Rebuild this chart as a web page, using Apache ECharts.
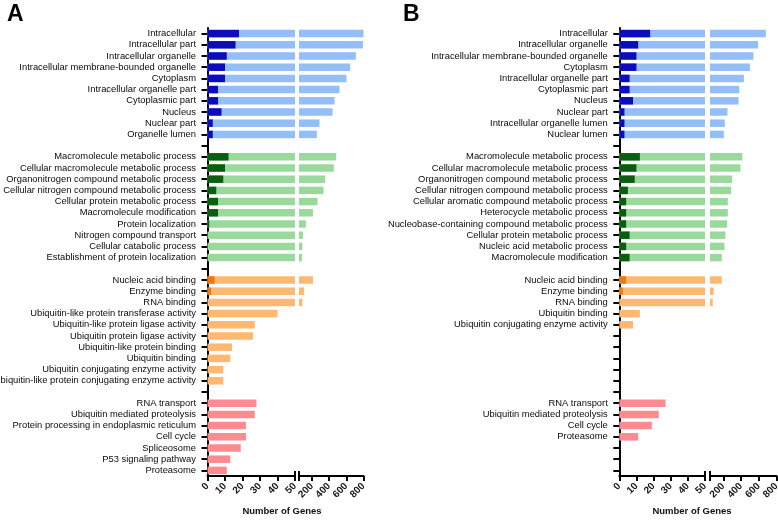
<!DOCTYPE html>
<html>
<head>
<meta charset="utf-8">
<script src="https://cdn.jsdelivr.net/npm/echarts@6/dist/echarts.min.js"></script>
<style>
html,body{margin:0;padding:0;background:#fff;}
#chart{width:778px;height:520px;}
</style>
</head>
<body>
<div id="chart"></div>
<script>
// ---------------- DATA ----------------
// Panel A
const aCcNames = ['Intracellular','Intracellular part','Intracellular organelle','Intracellular membrane-bounded organelle','Cytoplasm','Intracellular organelle part','Cytoplasmic part','Nucleus','Nuclear part','Organelle lumen'];
const aCcTotal = [805, 793, 711, 645, 602, 521, 463, 440, 288, 258];
const aCcSub   = [18, 16, 11, 10, 10, 6, 6, 8, 3, 3];

const aBpNames = ['Macromolecule metabolic process','Cellular macromolecule metabolic process','Organonitrogen compound metabolic process','Cellular nitrogen compound metabolic process','Cellular protein metabolic process','Macromolecule modification','Protein localization','Nitrogen compound transport','Cellular catabolic process','Establishment of protein localization'];
const aBpTotal = [483, 455, 355, 335, 265, 212, 130, 95, 90, 84];
const aBpSub   = [12, 10, 9, 5, 6, 6, 1, 0, 0, 0];

const aMfNames = ['Nucleic acid binding','Enzyme binding','RNA binding','Ubiquitin-like protein transferase activity','Ubiquitin-like protein ligase activity','Ubiquitin protein ligase activity','Ubiquitin-like protein binding','Ubiquitin binding','Ubiquitin conjugating enzyme activity','Ubiquitin-like protein conjugating enzyme activity'];
const aMfTotal = [212, 110, 90, 40, 27, 26, 14, 13, 9, 9];
const aMfSub   = [4, 2, 0, 0, 0, 0, 0, 0, 0, 0];

const aKeggNames = ['RNA transport','Ubiquitin mediated proteolysis','Protein processing in endoplasmic reticulum','Cell cycle','Spliceosome','P53 signaling pathway','Proteasome'];
const aKeggTotal = [28, 27, 22, 22, 19, 13, 11];

// Panel B
const bCcNames = ['Intracellular','Intracellular organelle','Intracellular membrane-bounded organelle','Cytoplasm','Intracellular organelle part','Cytoplasmic part','Nucleus','Nuclear part','Intracellular organelle lumen','Nuclear lumen'];
const bCcTotal = [680, 592, 540, 500, 432, 380, 372, 247, 217, 206];
const bCcSub   = [18, 11, 10, 10, 6, 6, 8, 3, 3, 3];

const bBpNames = ['Macromolecule metabolic process','Cellular macromolecule metabolic process','Organonitrogen compound metabolic process','Cellular nitrogen compound metabolic process','Cellular aromatic compound metabolic process','Heterocycle metabolic process','Nucleobase-containing compound metabolic process','Cellular protein metabolic process','Nucleic acid metabolic process','Macromolecule modification'];
const bBpTotal = [415, 393, 300, 289, 251, 251, 243, 224, 213, 183];
const bBpSub   = [12, 10, 9, 5, 4, 4, 4, 6, 4, 6];

const bMfNames = ['Nucleic acid binding','Enzyme binding','RNA binding','Ubiquitin binding','Ubiquitin conjugating enzyme activity'];
const bMfTotal = [183, 92, 81, 12, 8];
const bMfSub   = [4, 2, 0, 0, 0];

const bKeggNames = ['RNA transport','Ubiquitin mediated proteolysis','Cell cycle','Proteasome'];
const bKeggTotal = [27, 23, 19, 11];

// axis ticks
const leftTicks = [0, 10, 20, 30, 40, 50];
const rightTickLabels = [200, 400, 600, 800];
const breakValue = 50;
const axisMax = 800;

// group slot counts (rows per group incl. empty rows)
const groupSlots = [10, 10, 10, 7];

// colours [light, dark]
const colCC = ['#93bef7', '#0c0cbc'];
const colBP = ['#9ad99c', '#0b5e10'];
const colMF = ['#ffb870', '#f07810'];
const colKEGG = ['#ff8a90', '#e0505a'];

// ---------------- BUILD ----------------
function buildPanel(groups) {
  const cats = [], total = [], sub = [], light = [];
  groups.forEach((g, gi) => {
    if (gi > 0) { cats.push(''); total.push('-'); sub.push('-'); light.push(null); }
    for (let i = 0; i < groupSlots[gi]; i++) {
      if (i < g.names.length) {
        cats.push(g.names[i]);
        total.push(g.total[i]);
        sub.push(g.sub ? g.sub[i] : '-');
        light.push(g.col);
      } else {
        cats.push(''); total.push('-'); sub.push('-'); light.push(null);
      }
    }
  });
  return {cats, total, sub, light};
}

const panelA = buildPanel([
  {names: aCcNames, total: aCcTotal, sub: aCcSub, col: colCC},
  {names: aBpNames, total: aBpTotal, sub: aBpSub, col: colBP},
  {names: aMfNames, total: aMfTotal, sub: aMfSub, col: colMF},
  {names: aKeggNames, total: aKeggTotal, sub: null, col: colKEGG}
]);
const panelB = buildPanel([
  {names: bCcNames, total: bCcTotal, sub: bCcSub, col: colCC},
  {names: bBpNames, total: bBpTotal, sub: bBpSub, col: colBP},
  {names: bMfNames, total: bMfTotal, sub: bMfSub, col: colMF},
  {names: bKeggNames, total: bKeggTotal, sub: null, col: colKEGG}
]);

const FONT = '"Liberation Sans", Arial, sans-serif';
const TOP = 28, HEIGHT = 448;
const gridBase = {top: TOP, height: HEIGHT, containLabel: false, outerBoundsMode: 'none'};
const grids = [
  Object.assign({left: 207.5, width: 87.5}, gridBase),
  Object.assign({left: 299, width: 64.5}, gridBase),
  Object.assign({left: 619.3, width: 85.7}, gridBase),
  Object.assign({left: 710, width: 66.5}, gridBase)
];

const lineStyle = {color: '#000', width: 2};
const tickStyle = {color: '#000', width: 2};
const xLabel = {rotate: 45, fontSize: 10, fontWeight: 'bold', color: '#1a1a1a', fontFamily: FONT, margin: 8.5};

const xAxes = [], yAxes = [], series = [];
[panelA, panelB].forEach((p, pi) => {
  const gL = pi * 2, gR = pi * 2 + 1;
  xAxes.push({gridIndex: gL, type: 'value', min: 0, max: breakValue, interval: 10,
    axisLine: {show: true, onZero: false, lineStyle}, splitLine: {show: false},
    axisTick: {show: true, length: 5, lineStyle: tickStyle, customValues: leftTicks},
    axisLabel: Object.assign({customValues: leftTicks}, xLabel)});
  xAxes.push({gridIndex: gR, type: 'value', min: breakValue, max: axisMax,
    axisLine: {show: true, onZero: false, lineStyle}, splitLine: {show: false},
    axisTick: {show: true, length: 5, lineStyle: tickStyle, customValues: [breakValue].concat(rightTickLabels)},
    axisLabel: Object.assign({customValues: rightTickLabels}, xLabel)});
  // break marks (upward ticks)
  xAxes.push({gridIndex: gL, type: 'value', min: 0, max: breakValue, position: 'bottom',
    axisLine: {show: false}, splitLine: {show: false},
    axisTick: {show: true, inside: true, length: 5, lineStyle: tickStyle, customValues: [breakValue]},
    axisLabel: {show: false}});
  xAxes.push({gridIndex: gR, type: 'value', min: breakValue, max: axisMax, position: 'bottom',
    axisLine: {show: false}, splitLine: {show: false},
    axisTick: {show: true, inside: true, length: 5, lineStyle: tickStyle, customValues: [breakValue]},
    axisLabel: {show: false}});

  yAxes.push({gridIndex: gL, type: 'category', inverse: true, data: p.cats,
    axisLine: {show: true, onZero: false, lineStyle},
    axisTick: {show: true, alignWithLabel: true, interval: 0, length: 6, lineStyle: tickStyle},
    axisLabel: {interval: 0, fontSize: 9.4, color: '#0a0a0a', fontFamily: FONT, margin: 11.5}});
  yAxes.push({gridIndex: gR, type: 'category', inverse: true, data: p.cats, show: false});

  const xBase = pi * 4;
  const lightData = p.total.map((v, i) => v === '-' ? '-' : {value: v, itemStyle: {color: p.light[i][0]}});
  const darkData = p.sub.map((v, i) => v === '-' ? '-' : {value: v, itemStyle: {color: p.light[i][1]}});
  const rightData = p.total.map((v, i) => (v === '-' || v <= breakValue) ? '-' : {value: v, itemStyle: {color: p.light[i][0]}});
  series.push({type: 'bar', xAxisIndex: xBase, yAxisIndex: pi * 2, data: lightData, barWidth: 7.5, barGap: '-100%', clip: true, silent: true});
  series.push({type: 'bar', xAxisIndex: xBase, yAxisIndex: pi * 2, data: darkData, barWidth: 7.5, barGap: '-100%', clip: true, silent: true});
  series.push({type: 'bar', xAxisIndex: xBase + 1, yAxisIndex: pi * 2 + 1, data: rightData, barWidth: 7.5, clip: true, silent: true});
});

const chart = echarts.init(document.getElementById('chart'), null, {renderer: 'canvas'});
chart.setOption({
  animation: false,
  backgroundColor: '#fff',
  textStyle: {fontFamily: FONT},
  grid: grids,
  xAxis: xAxes,
  yAxis: yAxes,
  series: series,
  graphic: [
    {type: 'text', left: 7, top: 3, style: {text: 'A', font: 'bold 23px ' + FONT, fill: '#000'}},
    {type: 'text', left: 403, top: 3, style: {text: 'B', font: 'bold 23px ' + FONT, fill: '#000'}},
    {type: 'text', x: 282, y: 511, style: {text: 'Number of Genes', font: 'bold 9.5px ' + FONT, fill: '#111', align: 'center', verticalAlign: 'middle'}},
    {type: 'text', x: 692, y: 511, style: {text: 'Number of Genes', font: 'bold 9.5px ' + FONT, fill: '#111', align: 'center', verticalAlign: 'middle'}}
  ]
});
</script>
</body>
</html>
